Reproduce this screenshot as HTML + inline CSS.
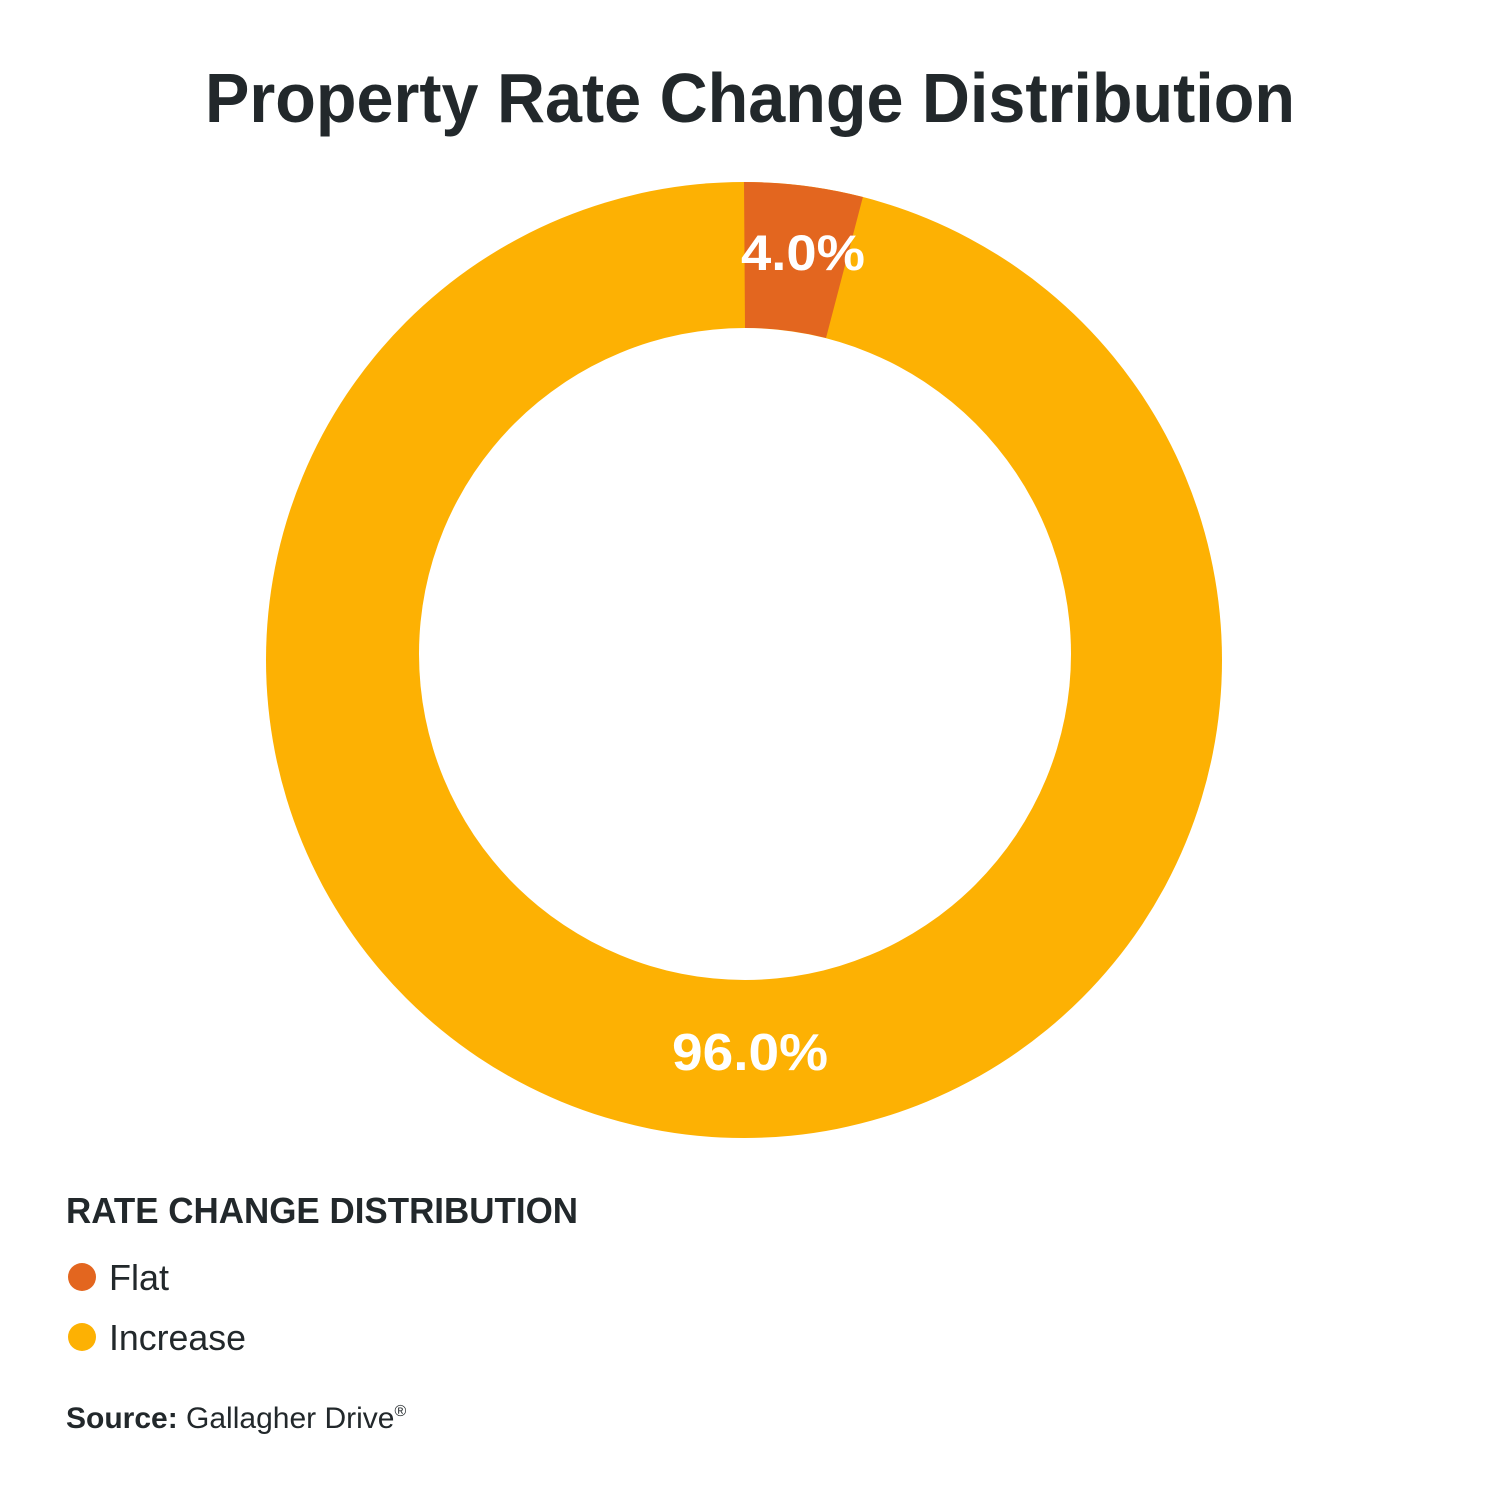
<!DOCTYPE html>
<html><head><meta charset="utf-8"><style>
html,body{margin:0;padding:0;background:#fff;}
svg{display:block;}
</style></head><body>
<svg width="1500" height="1500" viewBox="0 0 1500 1500" xmlns="http://www.w3.org/2000/svg" font-family="Liberation Sans, sans-serif">
<rect width="1500" height="1500" fill="#fff"/>
<text x="750" y="122" text-anchor="middle" font-size="70" font-weight="bold" fill="#22282b" textLength="1090" lengthAdjust="spacingAndGlyphs">Property Rate Change Distribution</text>
<circle cx="744" cy="660" r="478" fill="#fdb103"/>
<path d="M744,182 A478,478 0 0 1 862.9,197 L826,338 A326,326 0 0 0 745,328 Z" fill="#e3661f"/>
<circle cx="745" cy="654" r="326" fill="#fff"/>
<text x="803" y="270" text-anchor="middle" font-size="50" font-weight="bold" fill="#fff" textLength="124" lengthAdjust="spacingAndGlyphs">4.0%</text>
<text x="750" y="1070" text-anchor="middle" font-size="52" font-weight="bold" fill="#fff" textLength="156" lengthAdjust="spacingAndGlyphs">96.0%</text>
<text x="66" y="1223" font-size="36" font-weight="bold" fill="#22282b" textLength="512" lengthAdjust="spacingAndGlyphs">RATE CHANGE DISTRIBUTION</text>
<circle cx="82" cy="1277" r="14" fill="#e3661f"/>
<text x="109" y="1290" font-size="36" fill="#22282b">Flat</text>
<circle cx="82" cy="1337" r="14" fill="#fdb103"/>
<text x="109" y="1350" font-size="36" fill="#22282b" textLength="137" lengthAdjust="spacingAndGlyphs">Increase</text>
<text x="66" y="1428" font-size="30" fill="#22282b"><tspan font-weight="bold">Source:</tspan> Gallagher Drive<tspan font-size="16" dy="-12">®</tspan></text>
</svg>
</body></html>
